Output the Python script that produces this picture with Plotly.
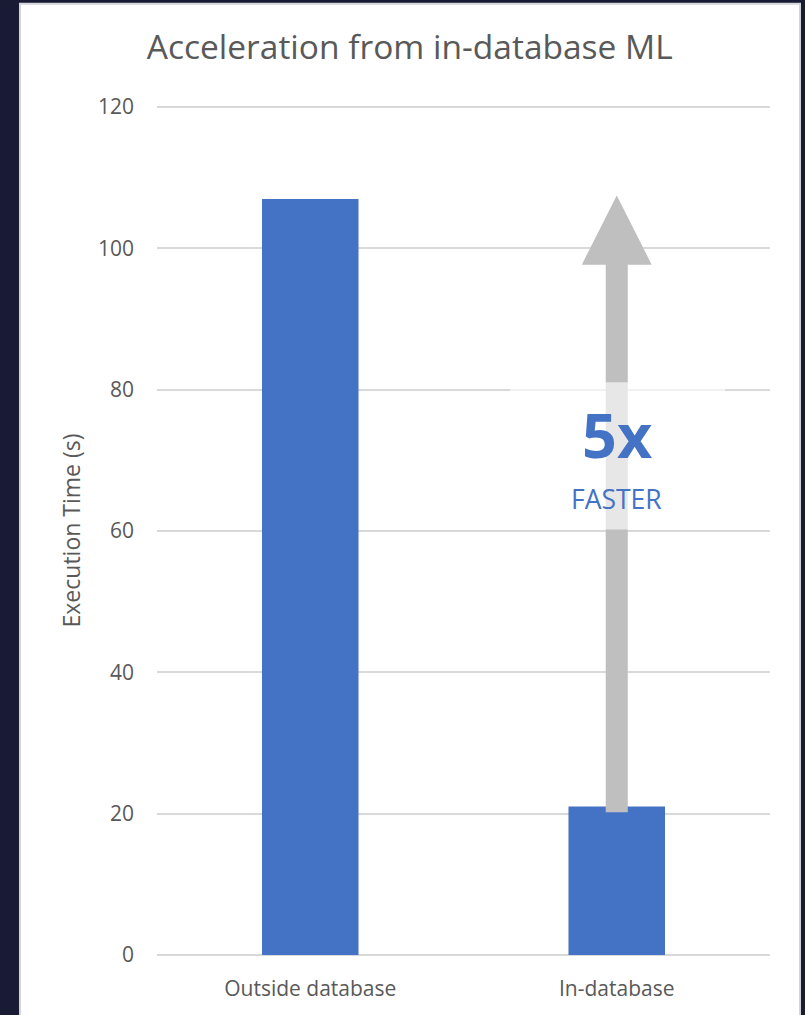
import plotly.graph_objects as go

# Execution time per approach (seconds)
categories = ["Outside database", "In-database"]
exec_time = [107, 21]
y_ticks = [0, 20, 40, 60, 80, 100, 120]

speedup_label = "5x"
speedup_sub = "FASTER"

BLUE = "#4472C4"
GREY_TXT = "#595959"
GRID = "#D9D9D9"
ARROW = "#BFBFBF"
NAVY = "#181b33"
FONT = "Open Sans"

fig = go.Figure()
fig.add_trace(go.Bar(
    x=categories, y=exec_time,
    marker=dict(color=BLUE, line=dict(width=0)),
    width=0.315, hoverinfo="skip",
))

# Arrow from the in-database bar up to the outside-database level
ai = 1  # category index of the arrow
shaft_hw, head_hw = 0.036, 0.114
top, bottom = exec_time[0] + 0.5, exec_time[1] - 0.8
head_base = top - 9.8
shapes = [
    # white card behind the chart
    dict(type="rect", xref="paper", yref="paper", x0=-0.2235, x1=1.0489,
         y0=-0.12, y1=1.1203, fillcolor="white",
         line=dict(color="#d4d5da", width=2), layer="below"),
    dict(type="path", xref="x", yref="y", layer="above",
         path=(f"M {ai-shaft_hw} {bottom} L {ai-shaft_hw} {head_base} "
               f"L {ai-head_hw} {head_base} L {ai} {top} L {ai+head_hw} {head_base} "
               f"L {ai+shaft_hw} {head_base} L {ai+shaft_hw} {bottom} Z"),
         fillcolor=ARROW, line=dict(width=0)),
    # translucent label box over the arrow
    dict(type="rect", xref="paper", yref="paper", x0=0.576, x1=0.9266,
         y0=0.5012, y1=0.6745, fillcolor="rgba(255,255,255,0.62)",
         line=dict(width=0), layer="above"),
]

annotations = [
    dict(x=ai, y=73.6, xref="x", yref="y", text=f"<b>{speedup_label}</b>",
         showarrow=False, font=dict(family=FONT, size=61, color=BLUE)),
    dict(x=ai, y=64.6, xref="x", yref="y", text=speedup_sub,
         showarrow=False, font=dict(family=FONT, size=26.5, color=BLUE)),
]

fig.update_layout(
    width=805, height=1015,
    paper_bgcolor=NAVY, plot_bgcolor="white",
    margin=dict(l=157, r=35, t=106, b=60),
    title=dict(text="Acceleration from in-database ML", x=0.509, xanchor="center",
               y=0.953, yanchor="middle",
               font=dict(family=FONT, size=33.5, color=GREY_TXT)),
    showlegend=False,
    shapes=shapes, annotations=annotations,
    bargap=0.685,
    xaxis=dict(showgrid=False, showline=False, ticks="", zeroline=False,
               tickfont=dict(family=FONT, size=21, color=GREY_TXT),
               ticklabelstandoff=19, fixedrange=True),
    yaxis=dict(range=[0, 120.15], tickvals=y_ticks, showgrid=True, gridcolor=GRID,
               gridwidth=2, zeroline=True, zerolinecolor=GRID, zerolinewidth=2,
               showline=False, ticks="", ticklabelstandoff=22,
               tickfont=dict(family=FONT, size=21, color=GREY_TXT),
               title=dict(text="Execution Time (s)", standoff=10,
                          font=dict(family=FONT, size=23, color=GREY_TXT)),
               fixedrange=True),
)

fig.write_html("out.html", config={"displayModeBar": False})
